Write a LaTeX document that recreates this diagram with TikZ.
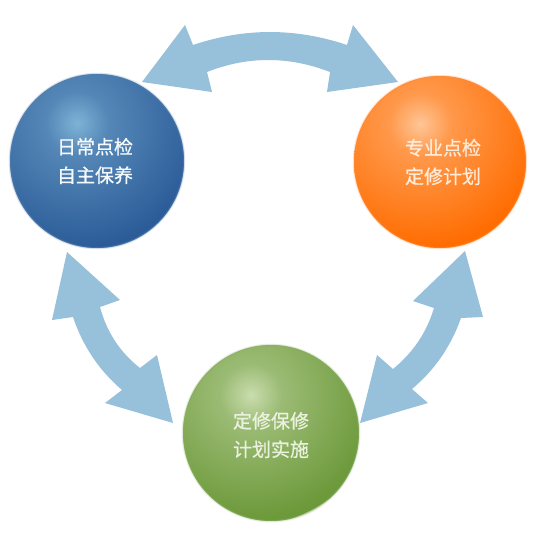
\documentclass[tikz,border=0pt]{standalone}
\usepackage{fontspec}
\newfontfamily\cjk{Noto Sans CJK SC}[FakeBold=0.7]
\definecolor{arrowblue}{HTML}{97C1DB}
\definecolor{blueBase}{HTML}{2B5C98}
\definecolor{blueHi}{HTML}{7EB3D6}
\colorlet{blueMid}{blueHi!50!blueBase}
\colorlet{blueEdge}{blueBase!94!black}
\definecolor{orangeBase}{HTML}{FF6C00}
\definecolor{orangeHi}{HTML}{FFC596}
\colorlet{orangeMid}{orangeHi!50!orangeBase}
\colorlet{orangeEdge}{orangeBase!97!black}
\definecolor{greenBase}{HTML}{6C993A}
\definecolor{greenHi}{HTML}{CADDAE}
\colorlet{greenMid}{greenHi!50!greenBase}
\colorlet{greenEdge}{greenBase!95!black}
\pgfdeclareradialshading{blueball}{\pgfpoint{0bp}{0bp}}{color(0bp)=(blueHi); color(6bp)=(blueMid); color(24bp)=(blueBase); color(42bp)=(blueBase); color(50bp)=(blueEdge)}
\pgfdeclareradialshading{orangeball}{\pgfpoint{0bp}{0bp}}{color(0bp)=(orangeHi); color(6bp)=(orangeMid); color(24bp)=(orangeBase); color(42bp)=(orangeBase); color(50bp)=(orangeEdge)}
\pgfdeclareradialshading{greenball}{\pgfpoint{0bp}{0bp}}{color(0bp)=(greenHi); color(6bp)=(greenMid); color(24bp)=(greenBase); color(42bp)=(greenBase); color(50bp)=(greenEdge)}
\tikzset{
  blockarrow/.style={fill=arrowblue, draw=none},
  balltext/.style={align=center, inner sep=0pt, font=\cjk\fontsize{19pt}{28.5pt}\selectfont},
  halo/.style={line width=2.5pt, draw opacity=0.3}
}
\begin{document}
\begin{tikzpicture}[x=1pt, y=-1pt]
\useasboundingbox (0,0) rectangle (536,536);
\fill[white] (0,0) rectangle (536,536);

% block arrows
\fill[blockarrow] (142,82) -- (185,25) -- (193,45) .. controls (244.3,27.7) and (295.7,27.7) .. (347,45)
  -- (353,25) -- (398,82) -- (327,92) -- (330,72) .. controls (288.7,56) and (247.7,56) .. (207,72)
  -- (212,92) -- cycle;
\fill[blockarrow] (67,252) -- (120,300) -- (100,307) .. controls (106.7,332) and (120,352.3) .. (140,368)
  -- (157,355) -- (173,423) -- (105,403) -- (122,390) .. controls (99,370.3) and (82.7,346) .. (73,317)
  -- (52,320) -- cycle;
\fill[blockarrow] (465,251) -- (413,301) -- (434,308) .. controls (426.7,332.3) and (413,352.7) .. (393,369)
  -- (377,355) -- (360,423) -- (428,403) -- (412,389) .. controls (434.7,370) and (451,346.3) .. (461,318)
  -- (483,317) -- cycle;

% balls
\foreach \cx/\cy/\r/\nm in {97/161/87/blue, 440/162/86/orange, 271/433/88/green}{
  \draw[halo, \nm Base!55!white] (\cx,\cy) circle (\r);
  \begin{scope}
    \clip (\cx,\cy) circle (\r);
    \shade[shading=\nm ball] (\cx-20,\cy-38) circle (130);
  \end{scope}
  \draw[line width=1.2pt, \nm Base!80!white, draw opacity=0.5] (\cx,\cy) circle (\r-0.4);
}

\node[balltext, text=white!94!blueHi] (daily) at (95,161) {日常点检\\自主保养};
\node[balltext, text=orangeHi!35!white] (expert) at (443,162) {专业点检\\定修计划};
\node[balltext, text=greenHi!40!white] (repair) at (271,435) {定修保修\\计划实施};
\end{tikzpicture}
\end{document}
